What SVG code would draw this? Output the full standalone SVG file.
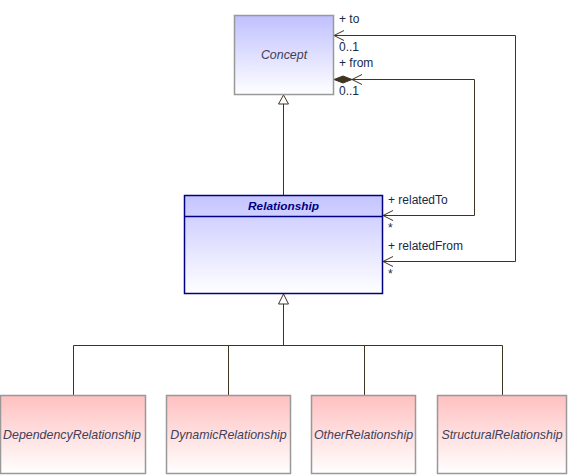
<svg xmlns="http://www.w3.org/2000/svg" width="568" height="475" viewBox="0 0 568 475">
<defs>
<linearGradient id="gBlue" x1="0" y1="0" x2="0" y2="1">
<stop offset="0" stop-color="#C0C0FF"/>
<stop offset="1" stop-color="#FFFFFF"/>
</linearGradient>
<linearGradient id="gRel" x1="0" y1="0" x2="0" y2="1">
<stop offset="0" stop-color="#C4C4FF"/>
<stop offset="1" stop-color="#FFFFFF"/>
</linearGradient>
<linearGradient id="gPink" x1="0" y1="0" x2="0" y2="1">
<stop offset="0" stop-color="#FFC0C0"/>
<stop offset="1" stop-color="#FFFFFF"/>
</linearGradient>
</defs>
<style>
.box{stroke:#999999;stroke-width:1.5}
.name{font-family:"Liberation Sans",Arial,sans-serif;font-size:12.4px;font-style:italic;fill:#404058;text-anchor:middle}
.lbl{font-family:"Liberation Sans",Arial,sans-serif;font-size:12px;fill:#182848}
.ln{fill:none;stroke:#3f3422;stroke-width:1}
.tri{fill:#FFFFFF;stroke:#3f3422;stroke-width:1}
</style>
<rect width="568" height="475" fill="#FFFFFF"/>
<g id="connectors">
<path class="ln" d="M283.5,104 V195.5"/>
<polygon class="tri" points="283.5,95 278.5,104 288.5,104"/>
<path class="ln" d="M283.5,304 V345.5 M73.5,345.5 H502.5 M73.5,345.5 V395.5 M228.5,345.5 V395.5 M364.5,345.5 V395.5 M502.5,345.5 V395.5"/>
<polygon class="tri" points="283.5,294 278.5,304 288.5,304"/>
<path class="ln" d="M334,35.5 H515.5 V261.5 H383"/>
<path class="ln" d="M344,30.5 L334,35.5 L344,40.5"/>
<path class="ln" d="M393,256.5 L383,261.5 L393,266.5"/>
<path class="ln" d="M352,79.5 H474.5 V215.5 H383"/>
<polygon points="334,79.5 343,76 352,79.5 343,83" fill="#3f3422" stroke="#3f3422" stroke-width="1"/>
<path class="ln" d="M362,74.5 L352,79.5 L362,84.5"/>
<path class="ln" d="M393,210.5 L383,215.5 L393,220.5"/>
<text class="lbl" x="339" y="23">+ to</text>
<text class="lbl" x="339" y="51">0..1</text>
<text class="lbl" x="339" y="67">+ from</text>
<text class="lbl" x="339" y="95">0..1</text>
<text class="lbl" x="388" y="204">+ relatedTo</text>
<text class="lbl" x="388" y="232">*</text>
<text class="lbl" x="388" y="250">+ relatedFrom</text>
<text class="lbl" x="388" y="278">*</text>
</g>
<g id="Concept">
<rect class="box" x="234.5" y="15.5" width="99" height="79" fill="url(#gBlue)"/>
<text class="name" x="284" y="59">Concept</text>
</g>
<g id="Relationship">
<rect x="184.5" y="195.5" width="198" height="98" fill="url(#gRel)" stroke="#000080" stroke-width="1.5"/>
<line x1="184.5" y1="216.5" x2="382.5" y2="216.5" stroke="#000080" stroke-width="1.5"/>
<text class="name" x="283.5" y="210" style="font-weight:bold;font-size:11.8px;fill:#000080">Relationship</text>
</g>
<g id="DependencyRelationship">
<rect class="box" x="0.5" y="395.5" width="145" height="78" fill="url(#gPink)"/>
<text class="name" x="72" y="439">DependencyRelationship</text>
</g>
<g id="DynamicRelationship">
<rect class="box" x="166.5" y="395.5" width="124" height="78" fill="url(#gPink)"/>
<text class="name" x="228.5" y="439">DynamicRelationship</text>
</g>
<g id="OtherRelationship">
<rect class="box" x="311.5" y="395.5" width="104" height="78" fill="url(#gPink)"/>
<text class="name" x="363.5" y="439">OtherRelationship</text>
</g>
<g id="StructuralRelationship">
<rect class="box" x="437.5" y="395.5" width="129" height="78" fill="url(#gPink)"/>
<text class="name" x="502" y="439">StructuralRelationship</text>
</g>
</svg>
